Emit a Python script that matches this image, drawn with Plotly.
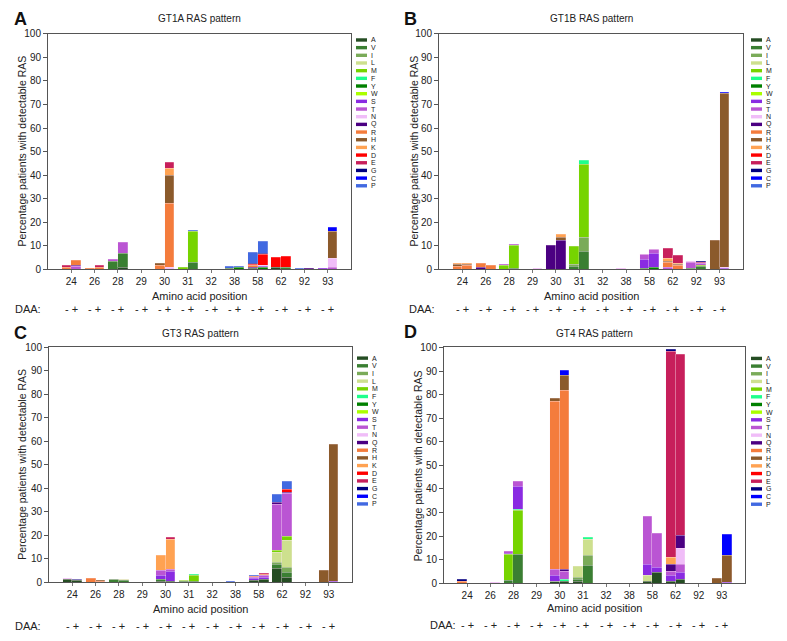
import plotly.graph_objects as go

W, H = 787, 641

positions = ["24", "26", "28", "29", "30", "31", "32", "38", "58", "62", "92", "93"]
daa_status = ["-", "+"]
amino_acids = ["A", "V", "I", "L", "M", "F", "Y", "W", "S", "T",
               "N", "Q", "R", "H", "K", "D", "E", "G", "C", "P"]
aa_colors = ["#254d23", "#3a7f32", "#7aab59", "#cde08e", "#76d400", "#1eff8c",
             "#008000", "#aaff00", "#8a2be2", "#ba55d3", "#f0bdf8", "#4b0082",
             "#f47c3c", "#8b5a2b", "#ffa252", "#ff0000", "#c71f5b", "#000080",
             "#0000ff", "#4169e1"]
panel_titles = ["GT1A RAS pattern", "GT1B RAS pattern", "GT3 RAS pattern", "GT4 RAS pattern"]
panel_letters = ["A", "B", "C", "D"]
y_tick_values = list(range(0, 101, 10))

# (position, DAA status, amino acid, % patients with detectable RAS)
gt1a_ras = [
    ("24", "-", "R", 0.8), ("24", "-", "E", 0.9),
    ("24", "+", "T", 1.0), ("24", "+", "Q", 0.6), ("24", "+", "R", 2.2),
    ("26", "-", "R", 0.5),
    ("26", "+", "R", 0.7), ("26", "+", "E", 1.0),
    ("28", "-", "V", 3.2), ("28", "-", "T", 1.1),
    ("28", "+", "A", 0.7), ("28", "+", "V", 5.8), ("28", "+", "T", 4.9),
    ("30", "-", "R", 1.7), ("30", "-", "H", 0.7),
    ("30", "+", "N", 0.8), ("30", "+", "R", 27.3), ("30", "+", "H", 11.7),
    ("30", "+", "K", 2.9), ("30", "+", "E", 2.8),
    ("31", "-", "M", 0.8),
    ("31", "+", "V", 2.7), ("31", "+", "M", 13.2), ("31", "+", "P", 0.5),
    ("38", "-", "V", 0.4), ("38", "-", "P", 0.7),
    ("38", "+", "Y", 0.7), ("38", "+", "P", 0.3),
    ("58", "-", "A", 0.5), ("58", "-", "Q", 0.4), ("58", "-", "R", 0.7),
    ("58", "-", "D", 0.4), ("58", "-", "G", 0.3), ("58", "-", "P", 5.0),
    ("58", "+", "Y", 0.7), ("58", "+", "S", 0.5), ("58", "+", "N", 0.6),
    ("58", "+", "D", 4.5), ("58", "+", "G", 0.3), ("58", "+", "P", 5.4),
    ("62", "-", "A", 0.6), ("62", "-", "D", 4.5),
    ("62", "+", "V", 0.6), ("62", "+", "D", 4.8),
    ("92", "-", "P", 0.5),
    ("92", "+", "Q", 0.3),
    ("93", "-", "S", 0.5),
    ("93", "+", "T", 0.6), ("93", "+", "N", 4.2), ("93", "+", "H", 11.2), ("93", "+", "C", 1.8),
]

gt1b_ras = [
    ("24", "-", "R", 1.4), ("24", "-", "H", 0.5), ("24", "-", "K", 0.4),
    ("24", "+", "R", 1.5), ("24", "+", "H", 0.6), ("24", "+", "K", 0.3),
    ("26", "-", "Q", 0.6), ("26", "-", "R", 1.9),
    ("26", "+", "R", 1.8),
    ("28", "-", "M", 1.7), ("28", "-", "T", 0.4),
    ("28", "+", "V", 0.5), ("28", "+", "M", 9.6), ("28", "+", "T", 0.4),
    ("29", "+", "N", 0.2),
    ("30", "-", "Q", 10.2),
    ("30", "+", "Q", 12.4), ("30", "+", "H", 1.0), ("30", "+", "K", 1.3),
    ("31", "-", "V", 1.3), ("31", "-", "I", 0.8), ("31", "-", "M", 7.7),
    ("31", "+", "V", 7.4), ("31", "+", "I", 6.1), ("31", "+", "M", 30.8), ("31", "+", "F", 1.7),
    ("38", "-", "N", 0.2),
    ("58", "-", "V", 0.3), ("58", "-", "S", 3.8), ("58", "-", "T", 2.0), ("58", "-", "Q", 0.3),
    ("58", "+", "Y", 0.8), ("58", "+", "S", 5.8), ("58", "+", "T", 1.6), ("58", "+", "Q", 0.3),
    ("62", "-", "T", 0.8), ("62", "-", "R", 2.3), ("62", "-", "H", 0.4),
    ("62", "-", "K", 1.3), ("62", "-", "E", 4.0),
    ("62", "+", "R", 1.5), ("62", "+", "H", 0.4), ("62", "+", "K", 0.4), ("62", "+", "E", 3.5),
    ("92", "-", "V", 0.5), ("92", "-", "T", 2.3), ("92", "-", "N", 0.5),
    ("92", "+", "V", 1.0), ("92", "+", "M", 0.5), ("92", "+", "T", 0.8),
    ("92", "+", "E", 0.5), ("92", "+", "G", 0.5),
    ("93", "-", "H", 12.2),
    ("93", "+", "S", 0.4), ("93", "+", "N", 0.5), ("93", "+", "H", 73.6), ("93", "+", "C", 0.5),
]

gt3_ras = [
    ("24", "-", "A", 1.4), ("24", "-", "N", 0.2),
    ("24", "+", "A", 0.6), ("24", "+", "G", 0.5), ("24", "+", "P", 0.3),
    ("26", "-", "R", 1.7),
    ("26", "+", "R", 0.4), ("26", "+", "H", 0.2),
    ("28", "-", "V", 1.2), ("28", "-", "N", 0.2),
    ("28", "+", "V", 0.6), ("28", "+", "L", 0.5), ("28", "+", "N", 0.3),
    ("30", "-", "A", 0.4), ("30", "-", "V", 0.8), ("30", "-", "S", 1.9),
    ("30", "-", "T", 2.1), ("30", "-", "K", 6.4),
    ("30", "+", "A", 0.5), ("30", "+", "S", 4.1), ("30", "+", "T", 1.0),
    ("30", "+", "K", 12.8), ("30", "+", "E", 0.6),
    ("31", "-", "V", 0.3), ("31", "-", "M", 0.4), ("31", "-", "N", 0.2),
    ("31", "+", "V", 0.5), ("31", "+", "M", 2.4), ("31", "+", "F", 0.6),
    ("38", "-", "P", 0.2),
    ("58", "-", "A", 0.7), ("58", "-", "S", 0.8), ("58", "-", "T", 0.6),
    ("58", "-", "R", 0.3), ("58", "-", "P", 0.3),
    ("58", "+", "A", 1.1), ("58", "+", "S", 1.0), ("58", "+", "T", 0.8),
    ("58", "+", "R", 0.3), ("58", "+", "E", 0.5),
    ("62", "-", "A", 5.8), ("62", "-", "V", 1.6), ("62", "-", "I", 1.1), ("62", "-", "L", 4.1),
    ("62", "-", "M", 0.9), ("62", "-", "T", 19.6), ("62", "-", "Q", 0.7), ("62", "-", "P", 3.7),
    ("62", "+", "A", 2.0), ("62", "+", "V", 2.1), ("62", "+", "I", 2.3), ("62", "+", "L", 11.6),
    ("62", "+", "M", 1.7), ("62", "+", "T", 18.3), ("62", "+", "Q", 0.4), ("62", "+", "D", 1.1),
    ("62", "+", "P", 3.4),
    ("93", "-", "H", 5.2),
    ("93", "+", "S", 0.4), ("93", "+", "H", 58.2),
]

gt4_ras = [
    ("24", "-", "R", 0.6), ("24", "-", "G", 1.1),
    ("26", "+", "N", 0.4),
    ("28", "-", "V", 1.4), ("28", "-", "M", 10.7), ("28", "-", "S", 0.7), ("28", "-", "T", 0.6),
    ("28", "+", "V", 12.4), ("28", "+", "M", 18.4), ("28", "+", "F", 0.4),
    ("28", "+", "S", 9.9), ("28", "+", "T", 2.0),
    ("30", "-", "A", 0.6), ("30", "-", "F", 0.3), ("30", "-", "S", 2.5),
    ("30", "-", "T", 2.3), ("30", "-", "R", 71.4), ("30", "-", "H", 1.3),
    ("30", "+", "A", 0.6), ("30", "+", "F", 1.0), ("30", "+", "T", 3.5), ("30", "+", "Q", 0.8),
    ("30", "+", "R", 76.0), ("30", "+", "H", 6.1), ("30", "+", "C", 2.1),
    ("31", "-", "A", 0.6), ("31", "-", "V", 1.1), ("31", "-", "I", 0.7), ("31", "-", "L", 4.7),
    ("31", "+", "V", 7.5), ("31", "+", "I", 4.5), ("31", "+", "L", 6.5), ("31", "+", "F", 1.1),
    ("58", "-", "A", 0.6), ("58", "-", "L", 2.8), ("58", "-", "S", 4.7), ("58", "-", "T", 20.1),
    ("58", "+", "A", 4.5), ("58", "+", "S", 2.1), ("58", "+", "T", 14.4),
    ("62", "-", "A", 0.6), ("62", "-", "S", 2.8), ("62", "-", "T", 1.8), ("62", "-", "Q", 2.8),
    ("62", "-", "K", 2.8), ("62", "-", "E", 87.5), ("62", "-", "G", 0.7),
    ("62", "+", "A", 1.6), ("62", "+", "S", 3.0), ("62", "+", "T", 3.5), ("62", "+", "N", 6.7),
    ("62", "+", "Q", 5.4), ("62", "+", "E", 77.0),
    ("93", "-", "H", 2.1),
    ("93", "+", "S", 0.4), ("93", "+", "H", 11.6), ("93", "+", "C", 8.8),
]

panel_data = [gt1a_ras, gt1b_ras, gt3_ras, gt4_ras]

# ---------------- layout geometry (target pixels) ----------------
panel_box = [(48, 351, 33, 269), (439, 743, 33, 269), (49, 352, 347, 582), (444, 745, 347, 583)]
panel_extra = [
    dict(letter=(20, 18), title_y=18, ytitle_x=22, xtitle_y=296, daa_y=309, daa_x=43, leg_x=356, leg_y=39.3),
    dict(letter=(410, 18), title_y=18, ytitle_x=414, xtitle_y=296, daa_y=309, daa_x=437, leg_x=751, leg_y=39.3),
    dict(letter=(20, 333), title_y=333, ytitle_x=22, xtitle_y=609, daa_y=626, daa_x=43, leg_x=357, leg_y=357.7),
    dict(letter=(410, 332), title_y=333, ytitle_x=418, xtitle_y=608, daa_y=625, daa_x=458, leg_x=751, leg_y=358),
]
FONT = "Arial, Liberation Sans, Helvetica, sans-serif"
LEG_STEP = 7.68
# empirical vertical calibration of the rendered page
Y_OFF, Y_SCALE = 4.3, 0.9836


def fx(x):
    return x / W


def fy(y):
    return 1 - ((y - Y_OFF) / Y_SCALE) / H


fig = go.Figure()
bar_offset = {"-": -0.21, "+": 0.21}

for p, data in enumerate(panel_data):
    sfx = "" if p == 0 else str(p + 1)
    for aa, col in zip(amino_acids, aa_colors):
        rows = [r for r in data if r[2] == aa]
        if not rows:
            continue
        xs = [positions.index(r[0]) + bar_offset[r[1]] for r in rows]
        ys = [r[3] for r in rows]
        fig.add_trace(go.Bar(
            x=xs, y=ys, width=0.42, name=aa,
            marker=dict(color=col, line=dict(color="rgba(255,235,245,0.45)", width=0.5)),
            xaxis="x" + sfx, yaxis="y" + sfx, showlegend=False,
            customdata=[[r[0], r[1]] for r in rows],
            hovertemplate=aa + " pos %{customdata[0]} DAA %{customdata[1]}: %{y}%<extra></extra>",
        ))

layout = dict(
    width=W, height=H, barmode="stack", bargap=0, autosize=False,
    margin=dict(l=0, r=0, t=0, b=0, pad=0),
    paper_bgcolor="white", plot_bgcolor="white",
    font=dict(family=FONT, color="#222", size=10),
    showlegend=False,
)
annotations = []
shapes = []

for p, (l, r, t, b) in enumerate(panel_box):
    sfx = "" if p == 0 else str(p + 1)
    layout["xaxis" + sfx] = dict(
        domain=[fx(l), fx(r)], range=[-1, 12], anchor="y" + sfx,
        tickmode="array", tickvals=list(range(len(positions))), ticktext=positions,
        ticks="outside", ticklen=3, tickcolor="#777", tickwidth=1,
        showline=True, linecolor="#555", linewidth=1, mirror=True,
        showgrid=False, zeroline=False, tickfont=dict(size=10, color="#222"),
    )
    layout["yaxis" + sfx] = dict(
        domain=[fy(b), fy(t)], range=[0, 100], anchor="x" + sfx,
        tickmode="array", tickvals=y_tick_values,
        ticks="outside", ticklen=4, tickcolor="#555", tickwidth=1,
        showline=True, linecolor="#555", linewidth=1, mirror=True,
        showgrid=False, zeroline=False, tickfont=dict(size=10, color="#222"),
    )
    ex = panel_extra[p]
    cx = (l + r) / 2
    annotations.append(dict(text="<b>" + panel_letters[p] + "</b>", x=fx(ex["letter"][0]), y=fy(ex["letter"][1]),
                            xref="paper", yref="paper", showarrow=False, xanchor="center", yanchor="middle",
                            font=dict(size=18, color="#111")))
    annotations.append(dict(text=panel_titles[p], x=fx(cx), y=fy(ex["title_y"]), xref="paper", yref="paper",
                            showarrow=False, xanchor="center", yanchor="middle", font=dict(size=10)))
    annotations.append(dict(text="Percentage patients with detectable RAS", x=fx(ex["ytitle_x"]),
                            y=fy((t + b) / 2), xref="paper", yref="paper", showarrow=False, textangle=-90,
                            xanchor="center", yanchor="middle", font=dict(size=10.5)))
    annotations.append(dict(text="Amino acid position", x=fx(cx), y=fy(ex["xtitle_y"]), xref="paper",
                            yref="paper", showarrow=False, xanchor="center", yanchor="middle", font=dict(size=11)))
    annotations.append(dict(text="DAA:", x=fx(ex["daa_x"]), y=fy(ex["daa_y"]), xref="paper", yref="paper",
                            showarrow=False, xanchor="right", yanchor="middle", font=dict(size=11)))
    for i, _ in enumerate(positions):
        annotations.append(dict(text=" ".join(daa_status), x=i, xref="x" + sfx, y=fy(ex["daa_y"]), yref="paper",
                                showarrow=False, xanchor="center", yanchor="middle", font=dict(size=11)))
    for k, (aa, col) in enumerate(zip(amino_acids, aa_colors)):
        yy = ex["leg_y"] + k * LEG_STEP
        shapes.append(dict(type="rect", xref="paper", yref="paper",
                           x0=fx(ex["leg_x"]), x1=fx(ex["leg_x"] + 11),
                           y0=fy(yy + 1.7), y1=fy(yy - 1.7),
                           fillcolor=col, line=dict(width=0)))
        annotations.append(dict(text=aa, x=fx(ex["leg_x"] + 13), y=fy(yy), xref="paper", yref="paper",
                                showarrow=False, xanchor="left", yanchor="middle", font=dict(size=7)))

layout["annotations"] = annotations
layout["shapes"] = shapes
fig.update_layout(**layout)
fig.write_html(
    "out.html",
    config={"displayModeBar": False},
    post_script="document.body.style.margin='0';document.body.style.padding='0';"
                "document.body.style.overflow='hidden';",
)
